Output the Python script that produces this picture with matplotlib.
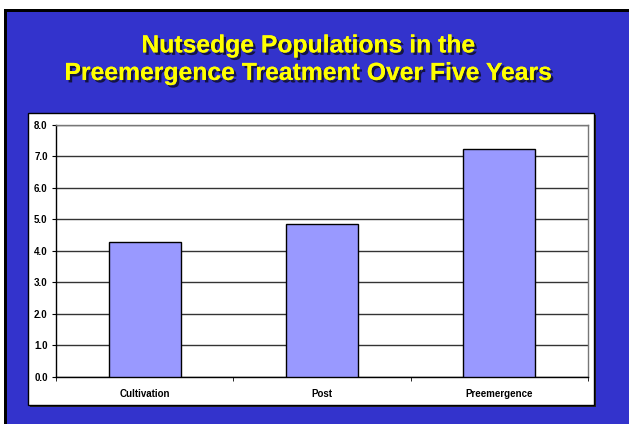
import matplotlib.pyplot as plt
import matplotlib.patheffects as pe
from matplotlib.patches import Rectangle
import numpy as np

plt.rcParams['font.family'] = ['Liberation Sans', 'DejaVu Sans']

# 各處理的族群數
treatments = ["Cultivation", "Post", "Preemergence"]
populations = [4.29, 4.84, 7.24]
yticks = [0.0, 1.0, 2.0, 3.0, 4.0, 5.0, 6.0, 7.0, 8.0]

blue_bg = "#3333CC"
bar_color = "#9999FF"

fig = plt.figure(figsize=(6.29, 4.24), dpi=100)
fig.patch.set_facecolor("white")

# 藍色背景與黑框
fig.patches.append(Rectangle((4/629, 0), 1, 1 - 9/424, transform=fig.transFigure,
                             facecolor="black", edgecolor="none", zorder=-3))
fig.patches.append(Rectangle((7/629, 0), 1, 1 - 12/424, transform=fig.transFigure,
                             facecolor=blue_bg, edgecolor="none", zorder=-3))
# 白色圖表區
fig.patches.append(Rectangle((30/629, 1 - 407/424), 566/629, 292/424, transform=fig.transFigure,
                             facecolor="#222222", edgecolor="none", zorder=-2))
fig.patches.append(Rectangle((28/629, 1 - 405/424), 566/629, 292/424, transform=fig.transFigure,
                             facecolor="white", edgecolor="black", linewidth=1, zorder=-1))

# 標題（黃色加陰影）
shadow = [pe.withSimplePatchShadow(offset=(1.8, -1.8), shadow_rgbFace="#111133", alpha=0.9), pe.Normal()]
fig.text(0.49, 0.893, "Nutsedge Populations in the", ha="center", va="center",
         fontsize=17.8, fontweight="bold", color="#FFFF00", path_effects=shadow)
fig.text(0.49, 0.828, "Preemergence Treatment Over Five Years", ha="center", va="center",
         fontsize=17.8, fontweight="bold", color="#FFFF00", path_effects=shadow)

ax = fig.add_axes([56/629, 1 - 376.7/424, 532/629, 251.7/424], zorder=2)
ax.set_facecolor("white")
x = np.arange(len(treatments))
ax.bar(x, populations, width=0.405, color=bar_color, edgecolor="black", linewidth=1, zorder=3)

ax.set_xlim(-0.5, 2.5)
ax.set_ylim(0, 8)
ax.set_yticks(yticks)
ax.set_yticklabels([f"{v:.1f}" for v in yticks], fontsize=7, fontweight="bold")
ax.yaxis.grid(True, color="#333333", linewidth=1)
ax.set_axisbelow(True)

ax.set_xticks(x)
ax.set_xticklabels(treatments, fontsize=7, fontweight="bold")
ax.tick_params(axis="x", length=0, pad=9)
ax.set_xticks([-0.5, 0.5, 1.5, 2.5], minor=True)
ax.tick_params(axis="x", which="minor", length=3, color="black")
ax.tick_params(axis="y", length=3, pad=3)

for s in ["left", "bottom"]:
    ax.spines[s].set_color("black")
    ax.spines[s].set_linewidth(1)
for s in ["top", "right"]:
    ax.spines[s].set_color("#777777")
    ax.spines[s].set_linewidth(1)

plt.savefig("out.png", dpi=100)
